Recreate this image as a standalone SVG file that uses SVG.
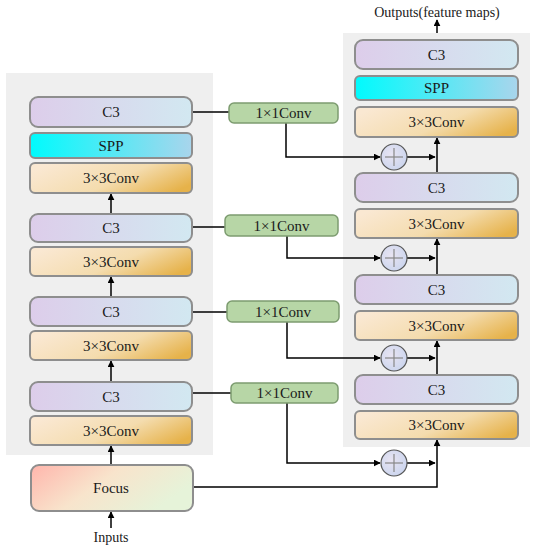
<svg xmlns="http://www.w3.org/2000/svg" width="536" height="550" viewBox="0 0 536 550">
<defs>
<linearGradient id="gC3" x1="0" y1="0" x2="1" y2="0"><stop offset="0" stop-color="#ddcdea"/><stop offset="1" stop-color="#d2e8f1"/></linearGradient>
<linearGradient id="gSPP" x1="0" y1="0" x2="1" y2="0"><stop offset="0" stop-color="#00fbfd"/><stop offset="1" stop-color="#a9d5ec"/></linearGradient>
<linearGradient id="gConv" x1="0" y1="0.3" x2="1" y2="0.7"><stop offset="0" stop-color="#fae8d2"/><stop offset="0.55" stop-color="#f4dcae"/><stop offset="1" stop-color="#e6b24a"/></linearGradient>
<linearGradient id="gFocus" x1="0" y1="0" x2="1" y2="0.4"><stop offset="0" stop-color="#ffb5ac"/><stop offset="0.5" stop-color="#f8e4cc"/><stop offset="1" stop-color="#e6f3d9"/></linearGradient>
<radialGradient id="gPlus" cx="0.4" cy="0.4" r="0.7"><stop offset="0" stop-color="#e8e4f2"/><stop offset="1" stop-color="#c9d4ee"/></radialGradient>
<marker id="ah" viewBox="0 0 10 10" refX="9" refY="5" markerWidth="7" markerHeight="7" orient="auto" markerUnits="userSpaceOnUse"><path d="M0,0 L10,5 L0,10 z" fill="#000"/></marker>
</defs>
<style>
.panel{fill:#efefef}
.box{stroke:#8e8e8e;stroke-width:2}
.c3{fill:url(#gC3)}
.spp{fill:url(#gSPP)}
.conv{fill:url(#gConv)}
.focus{fill:url(#gFocus)}
.one{fill:#b7d6a6;stroke:#7d9c70;stroke-width:1.5}
.t{font-family:Liberation Serif, Times New Roman, DejaVu Serif, serif;font-size:15px;fill:#1a1a1a;text-anchor:middle;dominant-baseline:central}
.ln{fill:none;stroke:#000;stroke-width:1.5}
.ar{fill:none;stroke:#000;stroke-width:1.5;marker-end:url(#ah)}
.plus{fill:url(#gPlus);stroke:#555;stroke-width:1.2}
.pl{stroke:#888;stroke-width:1.2}
</style>
<rect class="panel" x="6" y="73" width="207" height="382"/>
<rect class="panel" x="343" y="33" width="187" height="414"/>

<g id="connectors">
<line class="ln" x1="192" y1="112" x2="229" y2="112"/>
<line class="ln" x1="192" y1="227" x2="225" y2="227"/>
<line class="ln" x1="192" y1="312" x2="227" y2="312"/>
<line class="ln" x1="192" y1="393" x2="231" y2="393"/>
<line class="ar" x1="111" y1="213" x2="111" y2="194"/>
<line class="ar" x1="111" y1="296" x2="111" y2="277"/>
<line class="ar" x1="111" y1="381" x2="111" y2="361"/>
<line class="ar" x1="111" y1="464" x2="111" y2="446"/>
<line class="ar" x1="111" y1="528" x2="111" y2="512"/>
<polyline class="ar" points="286,123 286,157 380,157"/>
<polyline class="ar" points="287,236 287,258 380,258"/>
<polyline class="ar" points="287,322 287,358 380,358"/>
<polyline class="ar" points="287,403 287,463 380,463"/>
<line class="ar" x1="407" y1="157" x2="435" y2="157"/>
<line class="ar" x1="407" y1="258" x2="435" y2="258"/>
<line class="ar" x1="407" y1="358" x2="435" y2="358"/>
<line class="ar" x1="407" y1="463" x2="435" y2="463"/>
<line class="ar" x1="437" y1="173" x2="437" y2="138"/>
<line class="ar" x1="437" y1="275" x2="437" y2="239"/>
<line class="ar" x1="437" y1="375" x2="437" y2="341"/>
<polyline class="ar" points="193,487 437,487 437,440"/>
<line class="ar" x1="437" y1="33" x2="437" y2="20"/>
</g>

<g id="l-c3-4"><rect class="box c3" x="30" y="97" width="162" height="30" rx="8"/><text class="t" x="111" y="112">C3</text></g>
<g id="l-spp"><rect class="box spp" x="30" y="133" width="162" height="25" rx="5"/><text class="t" x="111" y="145.5">SPP</text></g>
<g id="l-conv-4"><rect class="box conv" x="30" y="163" width="162" height="30" rx="5"/><text class="t" x="111" y="178">3×3Conv</text></g>
<g id="l-c3-3"><rect class="box c3" x="30" y="214" width="162" height="28" rx="8"/><text class="t" x="111" y="228">C3</text></g>
<g id="l-conv-3"><rect class="box conv" x="30" y="247" width="162" height="29" rx="5"/><text class="t" x="111" y="261.5">3×3Conv</text></g>
<g id="l-c3-2"><rect class="box c3" x="30" y="297" width="162" height="29" rx="8"/><text class="t" x="111" y="311.5">C3</text></g>
<g id="l-conv-2"><rect class="box conv" x="30" y="331" width="162" height="29" rx="5"/><text class="t" x="111" y="345.5">3×3Conv</text></g>
<g id="l-c3-1"><rect class="box c3" x="30" y="382" width="162" height="29" rx="8"/><text class="t" x="111" y="396.5">C3</text></g>
<g id="l-conv-1"><rect class="box conv" x="30" y="416" width="162" height="29" rx="5"/><text class="t" x="111" y="430.5">3×3Conv</text></g>
<g id="focus"><rect class="box focus" x="31" y="465" width="162" height="46" rx="8"/><text class="t" x="111" y="488">Focus</text></g>
<g id="inputs"><text class="t" x="111" y="537" style="font-size:14px">Inputs</text></g>
<g id="outputs"><text class="t" x="437" y="12" style="font-size:14px">Outputs(feature maps)</text></g>

<g id="conv1x1-4"><rect class="one" x="229" y="103" width="109" height="20" rx="5"/><text class="t" x="283.5" y="113">1×1Conv</text></g>
<g id="conv1x1-3"><rect class="one" x="225" y="215" width="113" height="21" rx="5"/><text class="t" x="281.5" y="225.5">1×1Conv</text></g>
<g id="conv1x1-2"><rect class="one" x="227" y="301" width="112" height="21" rx="5"/><text class="t" x="283" y="311.5">1×1Conv</text></g>
<g id="conv1x1-1"><rect class="one" x="231" y="383" width="107" height="20" rx="5"/><text class="t" x="284.5" y="393">1×1Conv</text></g>

<g id="add-4"><circle class="plus" cx="394" cy="157" r="13"/><line class="pl" x1="385" y1="157" x2="403" y2="157"/><line class="pl" x1="394" y1="148" x2="394" y2="166"/></g>
<g id="add-3"><circle class="plus" cx="394" cy="258" r="13"/><line class="pl" x1="385" y1="258" x2="403" y2="258"/><line class="pl" x1="394" y1="249" x2="394" y2="267"/></g>
<g id="add-2"><circle class="plus" cx="394" cy="358" r="13"/><line class="pl" x1="385" y1="358" x2="403" y2="358"/><line class="pl" x1="394" y1="349" x2="394" y2="367"/></g>
<g id="add-1"><circle class="plus" cx="394" cy="463" r="13"/><line class="pl" x1="385" y1="463" x2="403" y2="463"/><line class="pl" x1="394" y1="454" x2="394" y2="472"/></g>

<g id="r-c3-4"><rect class="box c3" x="355" y="40" width="163" height="29" rx="8"/><text class="t" x="436.5" y="54.5">C3</text></g>
<g id="r-spp"><rect class="box spp" x="355" y="76" width="163" height="24" rx="5"/><text class="t" x="436.5" y="88">SPP</text></g>
<g id="r-conv-4"><rect class="box conv" x="355" y="107" width="163" height="30" rx="5"/><text class="t" x="436.5" y="122">3×3Conv</text></g>
<g id="r-c3-3"><rect class="box c3" x="355" y="173" width="163" height="29" rx="8"/><text class="t" x="436.5" y="187.5">C3</text></g>
<g id="r-conv-3"><rect class="box conv" x="355" y="209" width="163" height="29" rx="5"/><text class="t" x="436.5" y="223.5">3×3Conv</text></g>
<g id="r-c3-2"><rect class="box c3" x="355" y="275" width="163" height="29" rx="8"/><text class="t" x="436.5" y="289.5">C3</text></g>
<g id="r-conv-2"><rect class="box conv" x="355" y="311" width="163" height="29" rx="5"/><text class="t" x="436.5" y="325.5">3×3Conv</text></g>
<g id="r-c3-1"><rect class="box c3" x="355" y="375" width="163" height="29" rx="8"/><text class="t" x="436.5" y="389.5">C3</text></g>
<g id="r-conv-1"><rect class="box conv" x="355" y="411" width="163" height="28" rx="5"/><text class="t" x="436.5" y="425">3×3Conv</text></g>
</svg>
